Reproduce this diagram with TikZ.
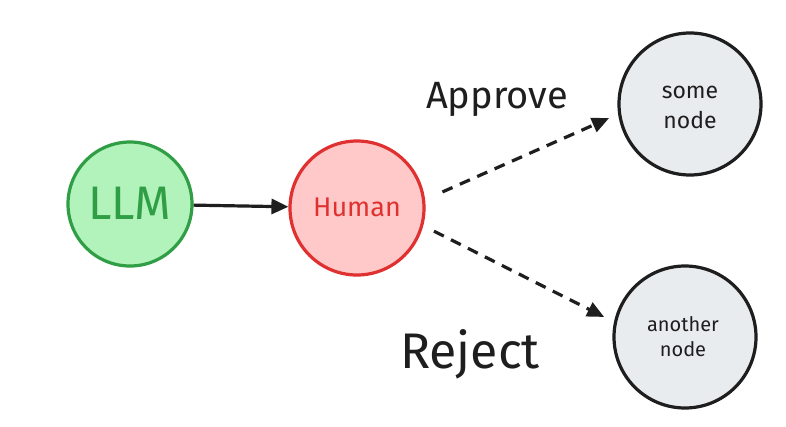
\documentclass[tikz,border=0pt]{standalone}
\usepackage{fontspec}
\setmainfont{Fira Sans}
\usetikzlibrary{arrows.meta}
\definecolor{gstroke}{HTML}{2F9E44}
\definecolor{gfill}{HTML}{B2F2BB}
\definecolor{rstroke}{HTML}{E03131}
\definecolor{rfill}{HTML}{FFC9C9}
\definecolor{kstroke}{HTML}{1E1E1E}
\definecolor{kfill}{HTML}{E9ECEF}
\tikzset{
  circ/.style={circle, line width=3.2pt, inner sep=0pt, align=center},
  llmnode/.style={circ, draw=gstroke, fill=gfill, text=gstroke, minimum size=124pt},
  humannode/.style={circ, draw=rstroke, fill=rfill, text=rstroke, minimum size=134pt},
  graynode/.style={circ, draw=kstroke, fill=kfill, text=kstroke, minimum size=142pt},
  conn/.style={line width=3.2pt, draw=kstroke, -{Triangle[length=17pt,width=15pt]}},
  dconn/.style={conn, dash pattern=on 11pt off 8pt},
  txt/.style={anchor=base, inner sep=0pt},
  lbl/.style={txt, text=kstroke}
}
\begin{document}
\begin{tikzpicture}[x=1pt,y=-1pt]
\useasboundingbox[fill=white] (0,0) rectangle (786,426);
\node[llmnode] (llm) at (130,204) {};
\node[humannode] (human) at (357,208) {};
\node[graynode] (some) at (690,104) {};
\node[graynode] (another) at (685,337) {};
\node[txt, text=gstroke, font=\fontsize{47}{47}\selectfont] (llmtxt) at (130,219) {LLM};
\node[txt, text=rstroke, font=\fontsize{27}{27}\selectfont] (humantxt) at (357,216) {Human};
\node[lbl, font=\fontsize{23}{23}\selectfont] (sometxt) at (690,98) {some};
\node[lbl, font=\fontsize{23}{23}\selectfont] (somenodetxt) at (690,128) {node};
\node[lbl, font=\fontsize{20}{20}\selectfont] (anothertxt) at (683,331) {another};
\node[lbl, font=\fontsize{20}{20}\selectfont] (anothernodetxt) at (683,356) {node};
\draw[conn] (llm) -- (human);
\draw[dconn, shorten <=19pt, shorten >=10pt] (human.7) -- (some.188);
\draw[dconn, shorten <=12pt, shorten >=11pt] (human.-15) -- (another.168);
\node[lbl, font=\fontsize{38}{38}\selectfont] (approve) at (497,108) {Approve};
\node[lbl, font=\fontsize{50}{50}\selectfont] (reject) at (470,368) {Reject};
\end{tikzpicture}
\end{document}
